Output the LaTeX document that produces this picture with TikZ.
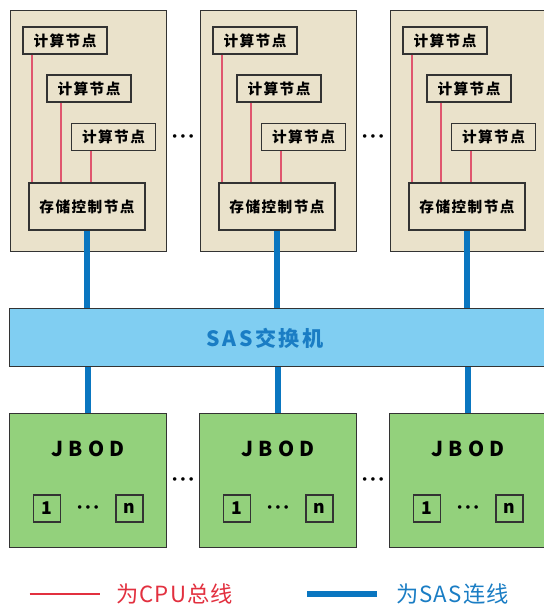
\documentclass[tikz,border=0pt]{standalone}
\usepackage{fontspec}
\setmainfont{Noto Sans CJK SC}
\usetikzlibrary{positioning,calc}

\definecolor{edge}{HTML}{333333}
\definecolor{rackbg}{HTML}{EAE2CB}
\definecolor{switchbg}{HTML}{80CEF2}
\definecolor{jbodbg}{HTML}{93D17C}
\definecolor{sasblue}{HTML}{0A76C0}
\definecolor{sastext}{HTML}{1A7DC4}
\definecolor{cpured}{HTML}{E0566E}
\definecolor{legred}{HTML}{E2303F}

\newcommand{\threedots}{$\bullet$\hspace{3pt}$\bullet$\hspace{3pt}$\bullet$}

\begin{document}
\begin{tikzpicture}[x=0.03cm,y=-0.03cm,line join=miter,
                    every node/.style={inner sep=0}]
  \tikzstyle{rack}=[draw=edge,fill=rackbg,line width=1.2pt,anchor=north west,
                    minimum width=4.68cm,minimum height=7.23cm]
  \tikzstyle{compute}=[draw=edge,fill=rackbg,line width=1.2pt,
                    minimum width=2.52cm,minimum height=0.81cm,
                    font=\fontsize{12.5}{12.5}\selectfont\bfseries\addfontfeature{LetterSpace=10}]
  \tikzstyle{storage}=[compute,minimum width=3.48cm,minimum height=1.41cm]
  \tikzstyle{switch}=[draw=edge,fill=switchbg,line width=1.2pt,anchor=north west,
                    minimum width=16.32cm,minimum height=1.74cm]
  \tikzstyle{jbod}=[draw=edge,fill=jbodbg,line width=1.2pt,anchor=north west,
                    minimum width=4.71cm,minimum height=4.02cm]
  \tikzstyle{disk}=[draw=edge,line width=1.3pt,minimum size=0.81cm,
                    font=\fontsize{15}{15}\selectfont\bfseries]
  \tikzstyle{more}=[font=\fontsize{7}{7}\selectfont]
  \tikzstyle{cpu}=[draw=cpured,line width=1.4pt]
  \tikzstyle{sas}=[draw=sasblue,line width=5pt]

  \useasboundingbox (0,0) rectangle (544,607);

  \node[switch] (sw) at (9,308) {};
  \node[text=sastext,font=\fontsize{18}{18}\selectfont\bfseries\addfontfeature{LetterSpace=12}]
       (swl) at (265,338) {SAS交换机};

  \foreach \i/\x in {1/0,2/190,3/380} {
    % cabinet with compute nodes
    \node[rack]    (r\i) at (9.5+\x,10) {};
    \node[compute] (ca\i) at (65+\x,40.5) {计算节点};
    \node[compute] (cb\i) at (89+\x,88.5) {计算节点};
    \node[compute] (cc\i) at (113.5+\x,137) {计算节点};
    \node[storage] (s\i)  at (87+\x,206.5) {存储控制节点};

    \draw[cpu] (ca\i.south west) ++(10,0) coordinate (pa\i) -- (pa\i |- s\i.north);
    \draw[cpu] (cb\i.south west) ++(15,0) coordinate (pb\i) -- (pb\i |- s\i.north);
    \draw[cpu] (cc\i.south west) ++(20,0) coordinate (pc\i) -- (pc\i |- s\i.north);

    % disk shelf
    \node[jbod] (j\i) at (9+\x,413) {};
    \node[font=\fontsize{17.5}{17.5}\selectfont\bfseries\addfontfeature{LetterSpace=25}]
         (jl\i) at (88+\x,449) {JBOD};
    \node[disk] (d1\i) at (47+\x,508.5) {1};
    \node[disk] (dn\i) at (129.5+\x,508.5) {n};
    \node[more] (dd\i) at (88+\x,508) {\threedots};

    \draw[sas] (s\i.south) -- (s\i.south |- sw.north);
    \draw[sas] (sw.south -| j\i.north) -- (j\i.north);
  }

  \node[more] (m1) at (183,137) {\threedots};
  \node[more] (m2) at (373,137) {\threedots};
  \node[more] (m3) at (183,480) {\threedots};
  \node[more] (m4) at (373,480) {\threedots};

  % legend
  \coordinate (lr1) at (29.5,594);
  \coordinate (lr2) at (99.5,594);
  \coordinate (lb1) at (307,594);
  \coordinate (lb2) at (377,594);
  \draw[legred,line width=1.8pt] (lr1) -- (lr2);
  \draw[sas] (lb1) -- (lb2);
  \node[anchor=west,text=legred,font=\fontsize{19}{19}\selectfont\addfontfeature{LetterSpace=5}]
       (lgr) at (116,594) {为CPU总线};
  \node[anchor=west,text=sastext,font=\fontsize{19}{19}\selectfont\addfontfeature{LetterSpace=5}]
       (lgb) at (396,594) {为SAS连线};
\end{tikzpicture}
\end{document}
